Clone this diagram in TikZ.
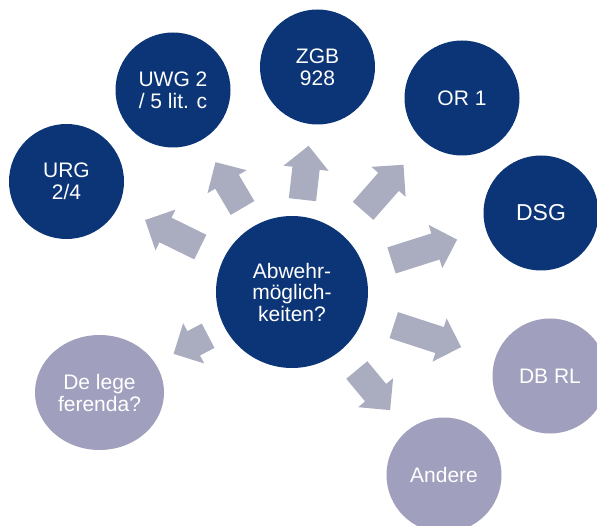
\documentclass[tikz,border=0pt]{standalone}
\usepackage{fontspec}
\setmainfont{Liberation Sans}
\usetikzlibrary{shapes.geometric,shapes.arrows,calc}

\definecolor{navy}{RGB}{12,53,120}
\definecolor{lilac}{RGB}{160,160,190}
\definecolor{arrowgrey}{RGB}{170,173,192}

% Block arrow pointing from the hub towards a target bubble:
% #1 target node, #2 distance of the tail from the hub centre,
% #3 arrow length, #4 name of the arrow node
\newcommand{\hubarrow}[4]{%
  \path let \p1=($(#1)-(hub)$), \n1={atan2(\y1,\x1)} in
    node[blockarrow,minimum height=#3pt,rotate=\n1] (#4) at ($(hub)!#2pt!(#1)$) {};
}

\begin{document}
\begin{tikzpicture}[x=1pt,y=-1pt,
  bubble/.style={circle,draw=none,inner sep=0pt,minimum size=115pt,text=white,
    align=center,font=\fontsize{21}{22}\selectfont},
  darkbubble/.style={bubble,fill=navy},
  lightbubble/.style={bubble,fill=lilac},
  % body 27pt wide, head 45pt wide
  blockarrow/.style={single arrow,fill=arrowgrey,draw=none,inner xsep=0pt,
    inner ysep=13.5pt,single arrow head extend=9pt,single arrow tip angle=90,
    anchor=tail},
]
\useasboundingbox (0,0) rectangle (597,526);

% central question
\node[darkbubble,minimum size=152pt,font=\fontsize{21}{21.5}\selectfont]
  (hub) at (292,292) {Abwehr-\\möglich-\\keiten?};

% legal bases
\node[darkbubble] (urg) at (66.5,181.5) {URG\\2/4};
\node[darkbubble] (uwg) at (173,90) {UWG 2\\/ 5 lit. c};
\node[darkbubble] (zgb) at (317.5,67) {ZGB\\928};
\node[darkbubble] (orone) at (462,98) {OR 1};
\node[darkbubble,font=\fontsize{23}{24}\selectfont] (dsg) at (541,213) {DSG};

% further options
\node[lightbubble] (dbrl) at (550,376) {DB RL};
\node[lightbubble] (andere) at (444,475) {Andere};
\node[lightbubble,ellipse,minimum width=129pt,minimum height=115pt]
  (lege) at (99.5,392.5) {De lege\\ferenda?};

% arrows from the hub
\hubarrow{urg}{101.9}{61.5}{a1}
\hubarrow{uwg}{97.3}{53.2}{a2}
\hubarrow{zgb}{92.7}{54.3}{a3}
\hubarrow{orone}{107.7}{61.3}{a4}
\hubarrow{dsg}{104.2}{68.8}{a5}
\hubarrow{dbrl}{106.8}{70.9}{a6}
\hubarrow{andere}{101.2}{52.2}{a7}
\hubarrow{lege}{94.4}{39}{a8}
\end{tikzpicture}
\end{document}
